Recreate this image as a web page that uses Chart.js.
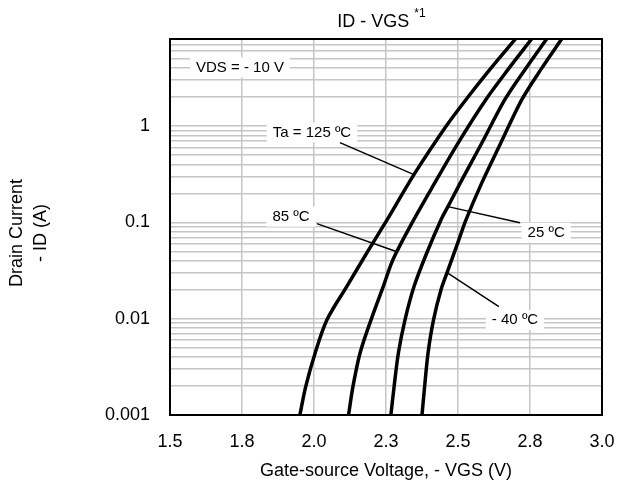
<!DOCTYPE html>
<html>
<head>
<meta charset="utf-8">
<script src="https://cdn.jsdelivr.net/npm/chart.js@4/dist/chart.umd.min.js"></script>
<style>
html,body{margin:0;padding:0;background:#fff;}
canvas{display:block;}
</style>
</head>
<body>
<canvas id="c" width="617" height="486"></canvas>
<script>
// ---- data ----
const vgs125 = [1.951, 1.971, 2.004, 2.045, 2.113, 2.184, 2.254, 2.347, 2.458, 2.528, 2.611, 2.701];
const id125  = [0.001, 0.00196, 0.00441, 0.00972, 0.0214, 0.0484, 0.1066, 0.313, 0.988, 1.886, 3.87, 8.1];

const vgs85 = [2.120, 2.135, 2.160, 2.198, 2.240, 2.274, 2.337, 2.406, 2.497, 2.597, 2.674, 2.757];
const id85  = [0.001, 0.00196, 0.00441, 0.00972, 0.0214, 0.0409, 0.0946, 0.219, 0.642, 1.886, 3.87, 8.1];

const vgs25 = [2.267, 2.278, 2.293, 2.316, 2.347, 2.389, 2.441, 2.465, 2.514, 2.580, 2.663, 2.733, 2.809];
const id25  = [0.001, 0.00196, 0.00441, 0.00972, 0.0214, 0.0461, 0.1066, 0.1455, 0.278, 0.642, 1.886, 3.87, 8.1];

const vgsM40 = [2.375, 2.384, 2.396, 2.415, 2.441, 2.462, 2.497, 2.528, 2.583, 2.646, 2.722, 2.788, 2.861];
const idM40  = [0.001, 0.00196, 0.00441, 0.00972, 0.01995, 0.030, 0.0586, 0.1066, 0.2585, 0.642, 1.886, 3.87, 8.1];

const xTickValues = [1.5, 1.75, 2.0, 2.25, 2.5, 2.75, 3.0];
const xTickLabels = ['1.5', '1.8', '2.0', '2.3', '2.5', '2.8', '3.0'];
const yTickValues = [0.001, 0.01, 0.1, 1];
const yTickLabels = ['0.001', '0.01', '0.1', '1'];
const yMin = 0.001, yMax = 8;

const titleText = 'ID - VGS';
const titleSup = '*1';
const xTitle = 'Gate-source Voltage, - VGS (V)';
const yTitle = ['Drain Current', '- ID (A)'];

// annotation labels (data coordinates)
const notes = [
  {text: 'VDS = - 10 V', x: 1.743, y: 4.06},
  {text: 'Ta = 125 \u00BAC', x: 1.993, y: 0.856, from: [2.090, 0.673], to: [2.347, 0.313]},
  {text: '85 \u00BAC', x: 1.920, y: 0.1145, from: [2.010, 0.097], to: [2.288, 0.0495]},
  {text: '25 \u00BAC', x: 2.806, y: 0.078, from: [2.715, 0.099], to: [2.465, 0.1455]},
  {text: '- 40 \u00BAC', x: 2.698, y: 0.0097, from: [2.642, 0.0133], to: [2.462, 0.030]}
];

// ---- build ----
const FONT = '"Liberation Sans", Arial, sans-serif';
function pts(xs, ys){ return xs.map((v,i)=>({x:v, y:ys[i]})); }
function ds(label, xs, ys){
  return {label, data: pts(xs, ys), borderColor:'#000', borderWidth:3.5,
    pointRadius:0, fill:false, tension:0.3};
}
const gridVals = [];
for (let e = -3; e <= 0; e++) {
  for (let m = 1; m <= 9; m++) {
    const v = parseFloat((m * Math.pow(10, e)).toPrecision(6));
    if (v >= yMin && v <= yMax) gridVals.push(v);
  }
}

const decor = {
  id: 'decor',
  beforeDatasetsDraw(chart){
    const {ctx, scales:{x, y}} = chart;
    ctx.save();
    ctx.font = '15px ' + FONT;
    notes.forEach(n => {
      const w = ctx.measureText(n.text).width + 12;
      const h = 20;
      const cx = x.getPixelForValue(n.x), cy = y.getPixelForValue(n.y);
      ctx.fillStyle = '#fff';
      ctx.fillRect(cx - w/2, cy - h/2, w, h);
    });
    ctx.restore();
  },
  afterDatasetsDraw(chart){
    const {ctx, scales:{x, y}} = chart;
    ctx.save();
    ctx.strokeStyle = '#000';
    ctx.lineWidth = 1.5;
    notes.forEach(n => {
      if (!n.from) return;
      ctx.beginPath();
      ctx.moveTo(x.getPixelForValue(n.from[0]), y.getPixelForValue(n.from[1]));
      ctx.lineTo(x.getPixelForValue(n.to[0]), y.getPixelForValue(n.to[1]));
      ctx.stroke();
    });
    ctx.fillStyle = '#000';
    ctx.font = '15px ' + FONT;
    ctx.textAlign = 'center';
    ctx.textBaseline = 'middle';
    notes.forEach(n => {
      ctx.fillText(n.text, x.getPixelForValue(n.x), y.getPixelForValue(n.y));
    });
    ctx.restore();
  },
  afterDraw(chart){
    const {ctx, chartArea:a} = chart;
    ctx.save();
    ctx.strokeStyle = '#000';
    ctx.lineWidth = 2;
    ctx.strokeRect(a.left, a.top, a.right - a.left, a.bottom - a.top);
    // title
    ctx.fillStyle = '#000';
    ctx.font = '18px ' + FONT;
    ctx.textBaseline = 'alphabetic';
    ctx.textAlign = 'left';
    const tw = ctx.measureText(titleText).width;
    ctx.font = '12px ' + FONT;
    const sw = ctx.measureText(titleSup).width;
    const cx = (a.left + a.right) / 2;
    const startX = cx - (tw + 4 + sw) / 2 - 5;
    ctx.font = '18px ' + FONT;
    ctx.fillText(titleText, startX, 27);
    ctx.font = '12px ' + FONT;
    ctx.fillText(titleSup, startX + tw + 5, 17);
    // y axis title (two rotated lines)
    ctx.font = '18px ' + FONT;
    ctx.textAlign = 'center';
    ctx.textBaseline = 'middle';
    const cy = (a.top + a.bottom) / 2 + 6;
    const lineX = [17, 41];
    yTitle.forEach((t, i) => {
      ctx.save();
      ctx.translate(lineX[i], cy);
      ctx.rotate(-Math.PI / 2);
      ctx.fillText(t, 0, 0);
      ctx.restore();
    });
    ctx.restore();
  }
};

new Chart(document.getElementById('c'), {
  type: 'line',
  data: {
    datasets: [
      ds('Ta = 125 ºC', vgs125, id125),
      ds('85 ºC', vgs85, id85),
      ds('25 ºC', vgs25, id25),
      ds('- 40 ºC', vgsM40, idM40)
    ]
  },
  options: {
    responsive: false,
    animation: false,
    events: [],
    layout: {padding: {left: 0, top: 39, right: 15, bottom: 0}},
    plugins: {legend: {display: false}, tooltip: {enabled: false}, title: {display: false}},
    scales: {
      x: {
        type: 'linear', min: 1.5, max: 3.0,
        afterBuildTicks(s){ s.ticks = xTickValues.map(v => ({value: v})); },
        afterFit(s){ s.height = 71; s.paddingLeft = 0; s.paddingRight = 0; },
        ticks: {
          autoSkip: false, maxRotation: 0, padding: 16, color: '#000',
          font: {family: FONT, size: 18},
          callback(v){ const i = xTickValues.findIndex(t => Math.abs(t - v) < 1e-9); return i >= 0 ? xTickLabels[i] : ''; }
        },
        grid: {color: '#c6c6c6', lineWidth: 1.5, drawTicks: false},
        border: {display: false},
        title: {display: true, text: xTitle, color: '#000', font: {family: FONT, size: 18}, padding: {top: 0, bottom: 4}}
      },
      y: {
        type: 'logarithmic', min: yMin, max: yMax,
        afterBuildTicks(s){ s.ticks = gridVals.map(v => ({value: v})); },
        afterFit(s){ s.width = 170; s.paddingTop = 0; s.paddingBottom = 0; },
        ticks: {
          autoSkip: false, padding: 20, color: '#000',
          font: {family: FONT, size: 18},
          callback(v){ const i = yTickValues.findIndex(t => Math.abs(t - v) / t < 1e-6); return i >= 0 ? yTickLabels[i] : ''; }
        },
        grid: {color: '#c6c6c6', lineWidth: 1.5, drawTicks: false},
        border: {display: false},
        title: {display: false}
      }
    }
  },
  plugins: [decor]
});
</script>
</body>
</html>
